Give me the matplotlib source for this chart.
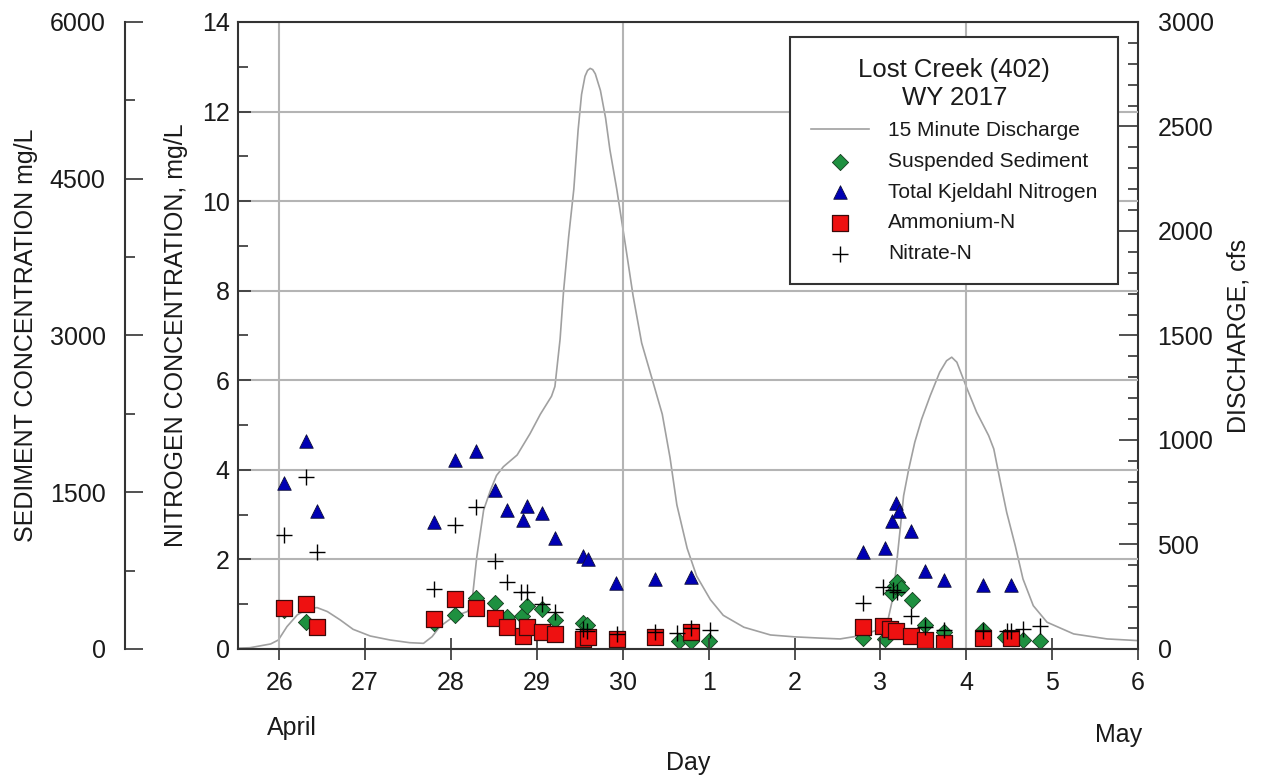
import matplotlib
matplotlib.use('Agg')
import matplotlib.pyplot as plt
from matplotlib.ticker import MultipleLocator, FixedLocator

plt.rcParams['font.family'] = ['Liberation Sans', 'DejaVu Sans']

# days counted in April terms (May 1 = 31)
q_day = [25.52, 25.66, 25.90, 25.99, 26.09, 26.21, 26.32, 26.44, 26.56, 26.71,
         26.86, 27.06, 27.29, 27.52, 27.68, 27.78, 27.87, 28.03, 28.19, 28.24,
         28.30, 28.38, 28.46, 28.53, 28.61, 28.77, 28.92, 29.04, 29.17, 29.21,
         29.27, 29.31, 29.37, 29.43, 29.48, 29.52, 29.56, 29.59, 29.62, 29.65,
         29.68, 29.74, 29.80, 29.85, 29.93, 30.03, 30.12, 30.22, 30.34, 30.46,
         30.55, 30.63, 30.75, 30.86, 31.02, 31.17, 31.41, 31.72, 32.00, 32.30,
         32.53, 32.77, 33.00, 33.09, 33.15, 33.21, 33.27, 33.33, 33.40, 33.48,
         33.58, 33.69, 33.77, 33.83, 33.89, 34.01, 34.12, 34.26, 34.32, 34.39,
         34.47, 34.57, 34.66, 34.78, 34.94, 35.25, 35.64, 36.00]
q_cfs = [4, 6, 24, 43, 107, 163, 190, 198, 179, 139,
         94, 62, 43, 30, 27, 59, 107, 155, 179, 210,
         440, 665, 760, 830, 872, 928, 1030, 1123, 1209, 1256,
         1482, 1709, 1973, 2200, 2483, 2653, 2740, 2768, 2778, 2772,
         2752, 2672, 2540, 2389, 2200, 1935, 1690, 1464, 1294, 1123,
         916, 689, 481, 349, 236, 161, 104, 67, 58, 52,
         48, 64, 96, 143, 255, 494, 733, 861, 989, 1100,
         1212, 1324, 1379, 1396, 1372, 1244, 1133, 1021, 957, 813,
         654, 494, 335, 207, 128, 72, 48, 40]

ss_day = [26.05, 26.31, 26.44, 27.80, 28.05, 28.29, 28.51, 28.65, 28.83, 28.89,
          29.06, 29.21, 29.54, 29.58, 30.65, 30.80, 31.00, 32.80, 33.05, 33.14,
          33.17, 33.19, 33.24, 33.37, 33.52, 33.74, 34.20, 34.45, 34.66, 34.86]
ss_val = [370, 261, 215, 245, 325, 490, 437, 309, 320, 415,
          385, 278, 246, 230, 80, 80, 80, 105, 93, 533,
          600, 644, 581, 469, 230, 166, 182, 118, 89, 80]

tkn_day = [26.05, 26.31, 26.44, 27.80, 28.05, 28.29, 28.51, 28.65, 28.84, 28.89,
           29.06, 29.21, 29.54, 29.60, 29.92, 30.38, 30.80, 32.80, 33.05, 33.14,
           33.18, 33.22, 33.36, 33.52, 33.74, 34.20, 34.52]
tkn_val = [3.70, 4.65, 3.08, 2.84, 4.22, 4.42, 3.56, 3.10, 2.88, 3.19,
           3.03, 2.47, 2.08, 2.02, 1.48, 1.56, 1.61, 2.17, 2.25, 2.86,
           3.27, 3.09, 2.64, 1.75, 1.55, 1.43, 1.43]

nh4_day = [26.05, 26.31, 26.44, 27.80, 28.05, 28.29, 28.51, 28.65, 28.84, 28.89,
           29.06, 29.21, 29.54, 29.60, 29.93, 30.38, 30.80, 32.80, 33.03, 33.11,
           33.18, 33.36, 33.52, 33.74, 34.20, 34.52]
nh4_val = [0.92, 1.00, 0.50, 0.66, 1.11, 0.91, 0.70, 0.50, 0.30, 0.50,
           0.39, 0.33, 0.22, 0.26, 0.22, 0.26, 0.39, 0.48, 0.51, 0.44,
           0.40, 0.30, 0.21, 0.14, 0.24, 0.24]

no3_day = [26.05, 26.31, 26.44, 27.80, 28.05, 28.29, 28.51, 28.65, 28.82, 28.89,
           29.06, 29.21, 29.54, 29.58, 29.93, 30.38, 30.63, 30.80, 31.02, 32.80,
           33.03, 33.15, 33.19, 33.36, 33.52, 33.74, 34.20, 34.47, 34.52, 34.66,
           34.86]
no3_val = [2.55, 3.85, 2.17, 1.35, 2.77, 3.16, 1.97, 1.49, 1.27, 1.27,
           1.00, 0.83, 0.44, 0.40, 0.33, 0.39, 0.35, 0.46, 0.42, 1.03,
           1.39, 1.32, 1.28, 0.73, 0.48, 0.42, 0.40, 0.40, 0.40, 0.45,
           0.52]

tick_days = list(range(26, 37))
tick_labels = ['26', '27', '28', '29', '30', '1', '2', '3', '4', '5', '6']
grid_days = [26, 30, 34]

ink = '#1a1a1a'
spine_c = '#333333'
fs = 18

fig = plt.figure(figsize=(12.62, 7.76), dpi=100)
ax = fig.add_axes([0.1886, 0.1637, 0.7132, 0.808])
ax_q = ax.twinx()
ax_s = ax.twinx()
ax_q.set_zorder(1)
ax_s.set_zorder(2)
ax.set_zorder(3)
ax.patch.set_visible(False)
ax_s.patch.set_visible(False)

# discharge
h_q, = ax_q.plot(q_day, q_cfs, color='#a0a0a0', lw=1.2, label='15 Minute Discharge')
# sediment
h_ss = ax_s.scatter(ss_day, ss_val, marker='D', s=68, c='#1e9040',
                    edgecolors='#143a1e', linewidths=0.6, label='Suspended Sediment')
# nitrogen
h_tkn = ax.scatter(tkn_day, tkn_val, marker='^', s=95, c='#0000b4',
                   edgecolors='#10103a', linewidths=0.6, label='Total Kjeldahl Nitrogen')
h_nh4 = ax.scatter(nh4_day, nh4_val, marker='s', s=125, c='#ee1111',
                   edgecolors='#3a0a0a', linewidths=0.9, label='Ammonium-N')
h_no3 = ax.scatter(no3_day, no3_val, marker='+', s=130, c='black',
                   linewidths=1.0, label='Nitrate-N')

ax.set_xlim(25.52, 36)
ax.set_ylim(0, 14)
ax_q.set_ylim(0, 3000)
ax_s.set_ylim(0, 6000)

# x axis
ax.set_xticks(tick_days)
ax.set_xticklabels(tick_labels)
ax.xaxis.set_minor_locator(FixedLocator(grid_days))
ax.xaxis.remove_overlapping_locs = False
ax.tick_params(axis='x', which='major', direction='inout', length=16, width=1.2,
               pad=8, labelsize=fs, color=spine_c, labelcolor=ink, top=False)
ax.tick_params(axis='x', which='minor', length=0, top=False)
ax.grid(axis='x', which='minor', color='#b4b4b4', lw=1.5)
ax.set_xlabel('Day', fontsize=fs, color=ink, labelpad=40)
ax.text(26.15, -0.126, 'April', transform=ax.get_xaxis_transform(),
        ha='center', va='center', fontsize=fs, color=ink)
ax.text(35.77, -0.137, 'May', transform=ax.get_xaxis_transform(),
        ha='center', va='center', fontsize=fs, color=ink)

# nitrogen axis
ax.yaxis.set_major_locator(MultipleLocator(2))
ax.yaxis.set_minor_locator(MultipleLocator(1))
ax.tick_params(axis='y', which='both', direction='in', left=True, right=False,
               labelsize=fs, pad=6, width=1.2, color=spine_c, labelcolor=ink)
ax.tick_params(axis='y', which='major', length=9)
ax.tick_params(axis='y', which='minor', length=7)
ax.grid(axis='y', which='major', color='#b4b4b4', lw=1.5)
ax.set_axisbelow(True)
ax.set_ylabel('NITROGEN CONCENTRATION, mg/L', fontsize=fs, color=ink, labelpad=10)
ax.spines['right'].set_visible(False)

# discharge axis
ax_q.yaxis.set_major_locator(MultipleLocator(500))
ax_q.yaxis.set_minor_locator(MultipleLocator(100))
ax_q.tick_params(axis='y', which='both', direction='in', labelsize=fs, pad=14,
                 width=1.2, color=spine_c, labelcolor=ink)
ax_q.tick_params(axis='y', which='major', length=14)
ax_q.tick_params(axis='y', which='minor', length=7)
ax_q.set_ylabel('DISCHARGE, cfs', fontsize=fs, color=ink, labelpad=9)
for side in ['left', 'top', 'bottom']:
    ax_q.spines[side].set_visible(False)

# sediment axis, offset to the left
ax_s.spines['left'].set_position(('axes', -0.1256))
ax_s.spines['left'].set_visible(True)
for side in ['right', 'top', 'bottom']:
    ax_s.spines[side].set_visible(False)
ax_s.yaxis.set_ticks_position('left')
ax_s.yaxis.set_label_position('left')
ax_s.yaxis.set_major_locator(MultipleLocator(1500))
ax_s.yaxis.set_minor_locator(MultipleLocator(750))
ax_s.tick_params(axis='y', which='both', direction='in', labelsize=fs, pad=14,
                 width=1.2, color=spine_c, labelcolor=ink)
ax_s.tick_params(axis='y', which='major', length=13)
ax_s.tick_params(axis='y', which='minor', length=7)
ax_s.set_ylabel('SEDIMENT CONCENTRATION mg/L', fontsize=fs, color=ink, labelpad=8)

for a in (ax, ax_q, ax_s):
    for sp in a.spines.values():
        sp.set_color(spine_c)
        sp.set_linewidth(1.5)

leg = ax.legend([h_q, h_ss, h_tkn, h_nh4, h_no3],
                ['15 Minute Discharge', 'Suspended Sediment', 'Total Kjeldahl Nitrogen',
                 'Ammonium-N', 'Nitrate-N'],
                title='Lost Creek (402)\nWY 2017', loc='upper right',
                bbox_to_anchor=(0.978, 0.976), borderaxespad=0, fontsize=15,
                title_fontsize=18.5, frameon=True, fancybox=False, framealpha=1,
                edgecolor=spine_c, handlelength=2.8, handletextpad=0.9,
                labelspacing=0.56, borderpad=1.0, scatterpoints=1)
leg.get_frame().set_linewidth(1.5)
for t in leg.get_texts():
    t.set_color(ink)
leg.get_title().set_color(ink)
leg.get_title().set_multialignment('center')

fig.savefig('out.png', dpi=100)
